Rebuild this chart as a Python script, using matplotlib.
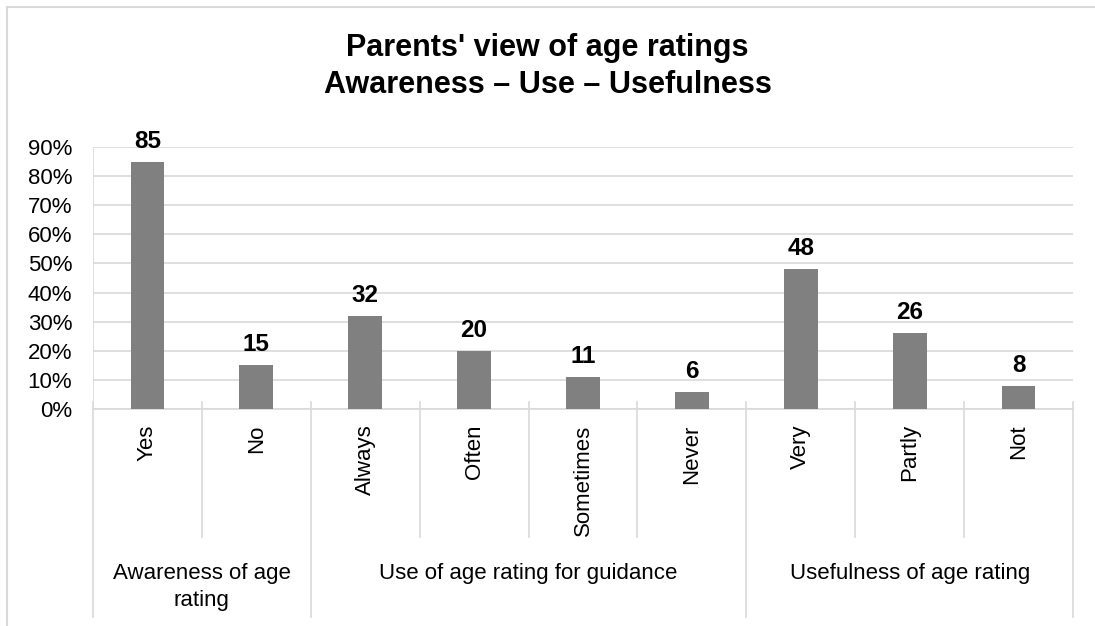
import numpy as np
import matplotlib
matplotlib.use("Agg")
import matplotlib.pyplot as plt
from matplotlib.ticker import PercentFormatter
from matplotlib.patches import Rectangle

plt.rcParams['font.family'] = ['Liberation Sans', 'DejaVu Sans']

# data
answers = ["Yes", "No", "Always", "Often", "Sometimes", "Never", "Very", "Partly", "Not"]
shares = [85, 15, 32, 20, 11, 6, 48, 26, 8]
groups = ["Awareness of age\nrating", "Use of age rating for guidance", "Usefulness of age rating"]
group_sizes = [2, 4, 3]

W, H = 1095, 626
fig = plt.figure(figsize=(W / 100, H / 100), dpi=100)
ax = fig.add_axes([93 / W, (H - 409) / H, (1073 - 93) / W, (409 - 147) / H])

x = np.arange(len(answers))
vals = np.array(shares) / 100.0
ax.bar(x, vals, width=0.31, color="#808080", zorder=3)

for xi, v in zip(x, shares):
    ax.annotate(str(v), (xi, v / 100.0), xytext=(0, 9), textcoords="offset pixels",
                ha="center", va="bottom", fontsize=17.5, fontweight="bold", color="black")

ax.set_xlim(-0.5, len(answers) - 0.5)
ax.set_ylim(0, 0.9)
ax.set_yticks(np.arange(0, 0.91, 0.1))
ax.yaxis.set_major_formatter(PercentFormatter(1.0, decimals=0))
ax.tick_params(axis="y", length=0, pad=15, labelsize=16, labelcolor="black")
ax.grid(axis="y", color="#d9d9d9", linewidth=1.2, zorder=0)
for s in ["top", "right", "left"]:
    ax.spines[s].set_visible(False)
ax.spines["bottom"].set_color("#d9d9d9")
ax.spines["bottom"].set_linewidth(1.2)

# category labels (rotated)
ax.set_xticks(x)
ax.set_xticklabels(answers, rotation=90, fontsize=16, va="top")
ax.tick_params(axis="x", length=0, pad=11)

# separators below the axis
ax_h = 409 - 147
trans = ax.get_xaxis_transform()
edges = np.cumsum([0] + group_sizes) - 0.5
for b in np.arange(-0.5, len(answers)):
    low = -128 / ax_h
    if np.any(np.isclose(edges, b)):
        low = -208 / ax_h
    ax.plot([b, b], [7 / ax_h, low], transform=trans, color="#d9d9d9",
            linewidth=1.2, clip_on=False, zorder=1)
# left edge line up through the plot
ax.plot([-0.5, -0.5], [0, 1], transform=trans, color="#d9d9d9", linewidth=1.2, zorder=1)

# group labels
for i, g in enumerate(groups):
    center = (edges[i] + edges[i + 1]) / 2
    ax.annotate(g, (center, 0), xycoords=trans, xytext=(0, -154),
                textcoords="offset pixels", ha="center", va="top",
                fontsize=16, linespacing=1.35)

fig.suptitle("Parents' view of age ratings\nAwareness \u2013 Use \u2013 Usefulness",
             y=1 - 33 / H, va="top", fontsize=22, fontweight="bold", linespacing=1.3)

# chart border (only top and left visible in the reference)
fig.patches.append(Rectangle((7 / W, -0.05), 1.0, 1.05 - 7 / H, transform=fig.transFigure,
                             fill=False, edgecolor="#d9d9d9", linewidth=1.5))

fig.savefig("out.png", dpi=100)
